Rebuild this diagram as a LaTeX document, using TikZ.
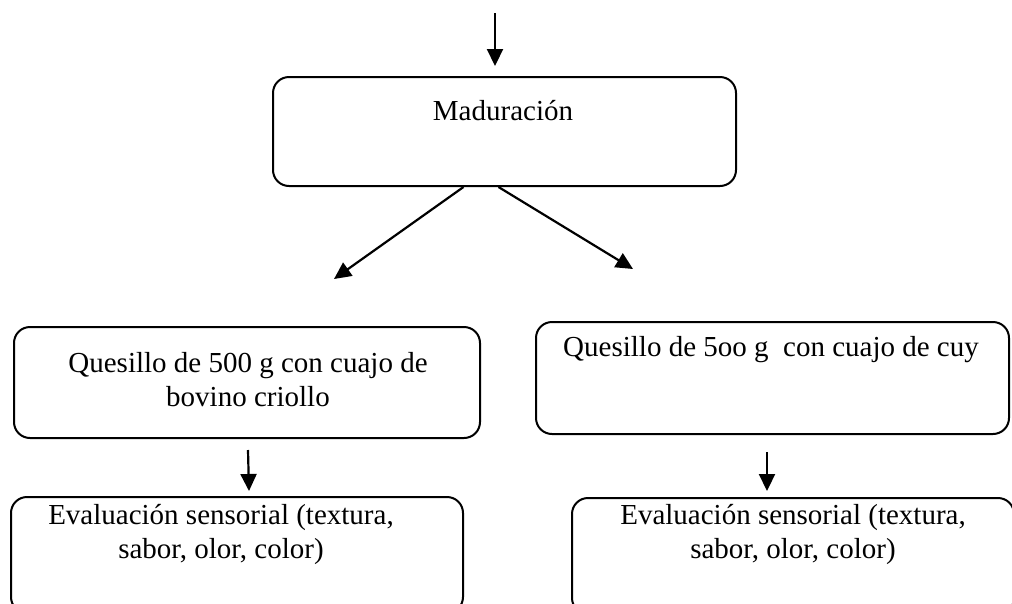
\documentclass[tikz,border=0pt]{standalone}
\usepackage{fontspec}
\setmainfont{Liberation Serif}
\usetikzlibrary{arrows.meta,calc}
\begin{document}
\begin{tikzpicture}[x=1pt,y=-1pt,
  box/.style={draw,line width=2pt,rounded corners=16pt,minimum width=#1},
  txt/.style={align=center,font=\fontsize{29}{34}\selectfont,inner sep=0pt},
  arr/.style={line width=2.2pt,-{Triangle[length=17pt,width=16pt]}}]
\useasboundingbox (0,0) rectangle (1012,603);
\clip (0,0) rectangle (1012,603);
\node[box=463pt,minimum height=109pt] (mad) at (504.5,131.5) {};
\node[box=466pt,minimum height=111pt] (q1) at (247,382.5) {};
\node[box=473pt,minimum height=112pt] (q2) at (772.5,378) {};
\node[box=452pt,minimum height=116pt] (e1) at (237,555) {};
\node[box=442pt,minimum height=116pt] (e2) at (793,556) {};
\node[txt] (tmad) at (503,111) {Maduración};
\node[txt] (tq1) at (248,380) {Quesillo de 500 g con cuajo de\\bovino criollo};
\node[txt] (tq2) at (771,350) {Quesillo de 5oo g\ \ con cuajo de cuy};
\node[txt] (te1) at (221,534) {Evaluación sensorial (textura,\\sabor, olor, color)};
\node[txt] (te2) at (793,534) {Evaluación sensorial (textura,\\sabor, olor, color)};
\coordinate (top) at (495,13);
\coordinate (lt) at (334,279);
\coordinate (rt) at (633,269);
\draw[arr] (top) -- ($(mad.north)+(-9.5,-10)$);
\draw[arr] ($(mad.south)+(-41,0)$) -- (lt);
\draw[arr] ($(mad.south)+(-6,0)$) -- (rt);
\draw[arr] ($(q1.south)+(1,11)$) -- ($(e1.north)+(12,-5)$);
\draw[arr] ($(q2.south)+(-5.5,17)$) -- ($(e2.north)+(-26,-6)$);
\end{tikzpicture}
\end{document}
